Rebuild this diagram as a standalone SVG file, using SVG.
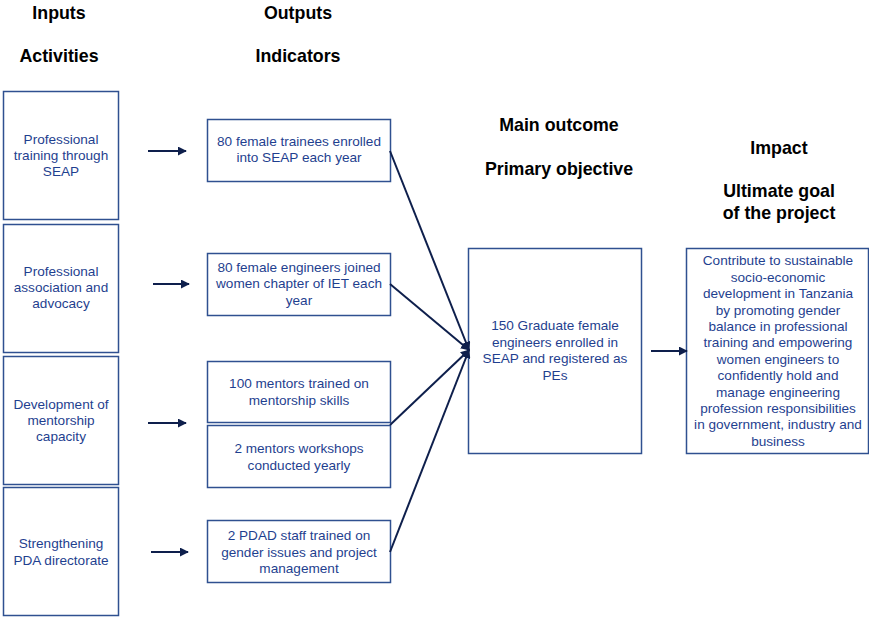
<svg xmlns="http://www.w3.org/2000/svg" width="869" height="618" viewBox="0 0 869 618">
<style>
.box{fill:#fff;stroke:#2F5090;stroke-width:1.5}
.t{font-family:"Liberation Sans",Arial,sans-serif;font-size:13.6px;fill:#1F3F8F;text-anchor:middle}
.h{font-family:"Liberation Sans",Arial,sans-serif;font-size:17.8px;font-weight:bold;fill:#000;text-anchor:middle}
.c{stroke:#0E1F4C;stroke-width:2;fill:none;marker-end:url(#ah)}
</style>
<defs>
<marker id="ah" viewBox="0 0 10 10" refX="9" refY="5" markerWidth="4.5" markerHeight="4.5" orient="auto" markerUnits="strokeWidth">
<path d="M0,0 L10,5 L0,10 z" fill="#0E1F4C"/>
</marker>
</defs>
<rect width="869" height="618" fill="#fff"/>
<g id="headers">
<text class="h" x="59" y="19">Inputs</text>
<text class="h" x="59" y="62">Activities</text>
<text class="h" x="298" y="19">Outputs</text>
<text class="h" x="298" y="62">Indicators</text>
<text class="h" x="559" y="131">Main outcome</text>
<text class="h" x="559" y="175">Primary objective</text>
<text class="h" x="779" y="154">Impact</text>
<text class="h" x="779" y="197">Ultimate goal</text>
<text class="h" x="779" y="219">of the project</text>
</g>
<g id="act1"><rect class="box" x="3.5" y="91.5" width="115" height="128"/>
<text class="t" x="61" y="144">Professional</text><text class="t" x="61" y="160">training through</text><text class="t" x="61" y="176">SEAP</text></g>
<g id="act2"><rect class="box" x="3.5" y="224.5" width="115" height="128"/>
<text class="t" x="61" y="276">Professional</text><text class="t" x="61" y="292">association and</text><text class="t" x="61" y="308">advocacy</text></g>
<g id="act3"><rect class="box" x="3.5" y="356.5" width="115" height="128"/>
<text class="t" x="61" y="409">Development of</text><text class="t" x="61" y="425">mentorship</text><text class="t" x="61" y="441">capacity</text></g>
<g id="act4"><rect class="box" x="3.5" y="487.5" width="115" height="128"/>
<text class="t" x="61" y="548">Strengthening</text><text class="t" x="61" y="565">PDA directorate</text></g>
<g id="out1"><rect class="box" x="207.5" y="119.5" width="183" height="62"/>
<text class="t" x="299" y="146">80 female trainees enrolled</text><text class="t" x="299" y="162">into SEAP each year</text></g>
<g id="out2"><rect class="box" x="207.5" y="253.5" width="183" height="62"/>
<text class="t" x="299" y="272">80 female engineers joined</text><text class="t" x="299" y="288">women chapter of IET each</text><text class="t" x="299" y="305">year</text></g>
<g id="out3"><rect class="box" x="207.5" y="361.5" width="183" height="61"/>
<text class="t" x="299" y="388">100 mentors trained on</text><text class="t" x="299" y="405">mentorship skills</text></g>
<g id="out4"><rect class="box" x="207.5" y="425.5" width="183" height="62"/>
<text class="t" x="299" y="453">2 mentors workshops</text><text class="t" x="299" y="470">conducted yearly</text></g>
<g id="out5"><rect class="box" x="207.5" y="520.5" width="183" height="62"/>
<text class="t" x="299" y="540">2 PDAD staff trained on</text><text class="t" x="299" y="557">gender issues and project</text><text class="t" x="299" y="573">management</text></g>
<g id="outcome"><rect class="box" x="468.5" y="248.5" width="173" height="205"/>
<text class="t" x="555" y="330">150 Graduate female</text><text class="t" x="555" y="347">engineers enrolled in</text><text class="t" x="555" y="363">SEAP and registered as</text><text class="t" x="555" y="380">PEs</text></g>
<g id="impact"><rect class="box" x="686.5" y="248.5" width="182" height="205"/>
<text class="t" x="778" y="265">Contribute to sustainable</text>
<text class="t" x="778" y="282">socio-economic</text>
<text class="t" x="778" y="298">development in Tanzania</text>
<text class="t" x="778" y="315">by promoting gender</text>
<text class="t" x="778" y="331">balance in professional</text>
<text class="t" x="778" y="347">training and empowering</text>
<text class="t" x="778" y="364">women engineers to</text>
<text class="t" x="778" y="380">confidently hold and</text>
<text class="t" x="778" y="397">manage engineering</text>
<text class="t" x="778" y="413">profession responsibilities</text>
<text class="t" x="778" y="429">in government, industry and</text>
<text class="t" x="778" y="446">business</text></g>
<g id="connectors">
<line class="c" x1="148" y1="151" x2="186" y2="151"/>
<line class="c" x1="153" y1="284" x2="189" y2="284"/>
<line class="c" x1="148" y1="423" x2="186" y2="423"/>
<line class="c" x1="151" y1="552" x2="188" y2="552"/>
<line class="c" x1="651" y1="351" x2="687" y2="351"/>
<line class="c" x1="390" y1="151" x2="469" y2="350"/>
<line class="c" x1="390" y1="284" x2="469" y2="350"/>
<line class="c" x1="390" y1="425" x2="469" y2="350"/>
<line class="c" x1="390" y1="552" x2="469" y2="350"/>
</g>
</svg>
